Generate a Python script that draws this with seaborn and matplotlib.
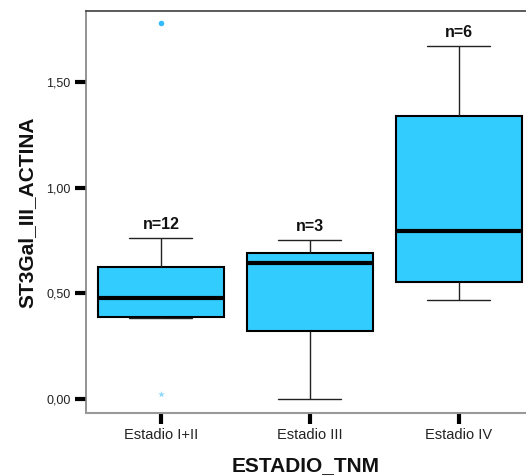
import numpy as np
import pandas as pd
import matplotlib
matplotlib.use("Agg")
import matplotlib.pyplot as plt
from matplotlib.ticker import FuncFormatter
import seaborn as sns

# Five-number summaries per TNM stage
stages = ["Estadio I+II", "Estadio III", "Estadio IV"]
whisker_low = [0.384, 0.001, 0.469]
q1 = [0.390, 0.324, 0.556]
median = [0.477, 0.642, 0.795]
q3 = [0.626, 0.693, 1.338]
whisker_high = [0.762, 0.752, 1.668]
counts = [12, 3, 6]

# Outlying cases (stage, value)
outlier_stage = ["Estadio I+II", "Estadio I+II"]
outlier_value = [1.778, 0.024]

yticks = [0.0, 0.5, 1.0, 1.5]

sns.set_theme(style="white")
plt.rcParams["font.family"] = ["Liberation Sans", "DejaVu Sans"]

rows = []
for i, s in enumerate(stages):
    for v in (whisker_low[i], q1[i], median[i], q3[i], whisker_high[i]):
        rows.append({"ESTADIO_TNM": s, "ST3Gal_III_ACTINA": v})
df = pd.DataFrame(rows)

fig = plt.figure(figsize=(5.26, 4.75), dpi=100)
ax = fig.add_axes([86 / 526, 62 / 475, 440 / 526, 402 / 475])

box_color = "#33CCFF"
sns.boxplot(
    data=df, x="ESTADIO_TNM", y="ST3Gal_III_ACTINA", order=stages,
    whis=(0, 100), width=0.845, color=box_color, saturation=1,
    linecolor="black", linewidth=1.0, showfliers=False,
    boxprops=dict(edgecolor="black", linewidth=1.5),
    medianprops=dict(color="black", linewidth=3),
    whiskerprops=dict(color="#222222", linewidth=1.0),
    capprops=dict(color="#222222", linewidth=1.0),
    ax=ax,
)

out_df = pd.DataFrame({"ESTADIO_TNM": outlier_stage, "ST3Gal_III_ACTINA": outlier_value})
sns.stripplot(
    data=out_df.iloc[[0]], x="ESTADIO_TNM", y="ST3Gal_III_ACTINA", order=stages,
    jitter=False, color="#33BBFF", size=4, marker="o", linewidth=0, ax=ax,
)
sns.stripplot(
    data=out_df.iloc[[1]], x="ESTADIO_TNM", y="ST3Gal_III_ACTINA", order=stages,
    jitter=False, color="#8ED8FF", size=5, marker="*", linewidth=0, ax=ax,
)

for i, n in enumerate(counts):
    ax.annotate(f"n={n}", xy=(i, whisker_high[i]), xytext=(0, 10),
                textcoords="offset points", ha="center", va="center",
                fontsize=11.5, fontweight="bold", color="#111111")

ax.set_xlim(-0.503, 2.45)
ax.set_ylim(-0.065, 1.834)
ax.set_yticks(yticks)
ax.yaxis.set_major_formatter(FuncFormatter(lambda v, p: f"{v:.2f}".replace(".", ",")))

ax.tick_params(axis="both", which="major", direction="out", length=8, width=3,
               color="black", labelcolor="#222222", left=True, bottom=True)
ax.tick_params(axis="y", labelsize=9, pad=3)
ax.tick_params(axis="x", labelsize=10.5, pad=3)

ax.spines["right"].set_visible(False)
ax.spines["top"].set_color("#404040")
ax.spines["top"].set_linewidth(1.2)
ax.spines["left"].set_color("#808080")
ax.spines["left"].set_linewidth(1.2)
ax.spines["bottom"].set_color("#999999")
ax.spines["bottom"].set_linewidth(1.5)

ax.set_xlabel("ESTADIO_TNM", fontsize=15, fontweight="bold", labelpad=10, color="#111111")
ax.set_ylabel("ST3Gal_III_ACTINA", fontsize=15, fontweight="bold", labelpad=7, color="#111111")

fig.savefig("out.png", dpi=100)
